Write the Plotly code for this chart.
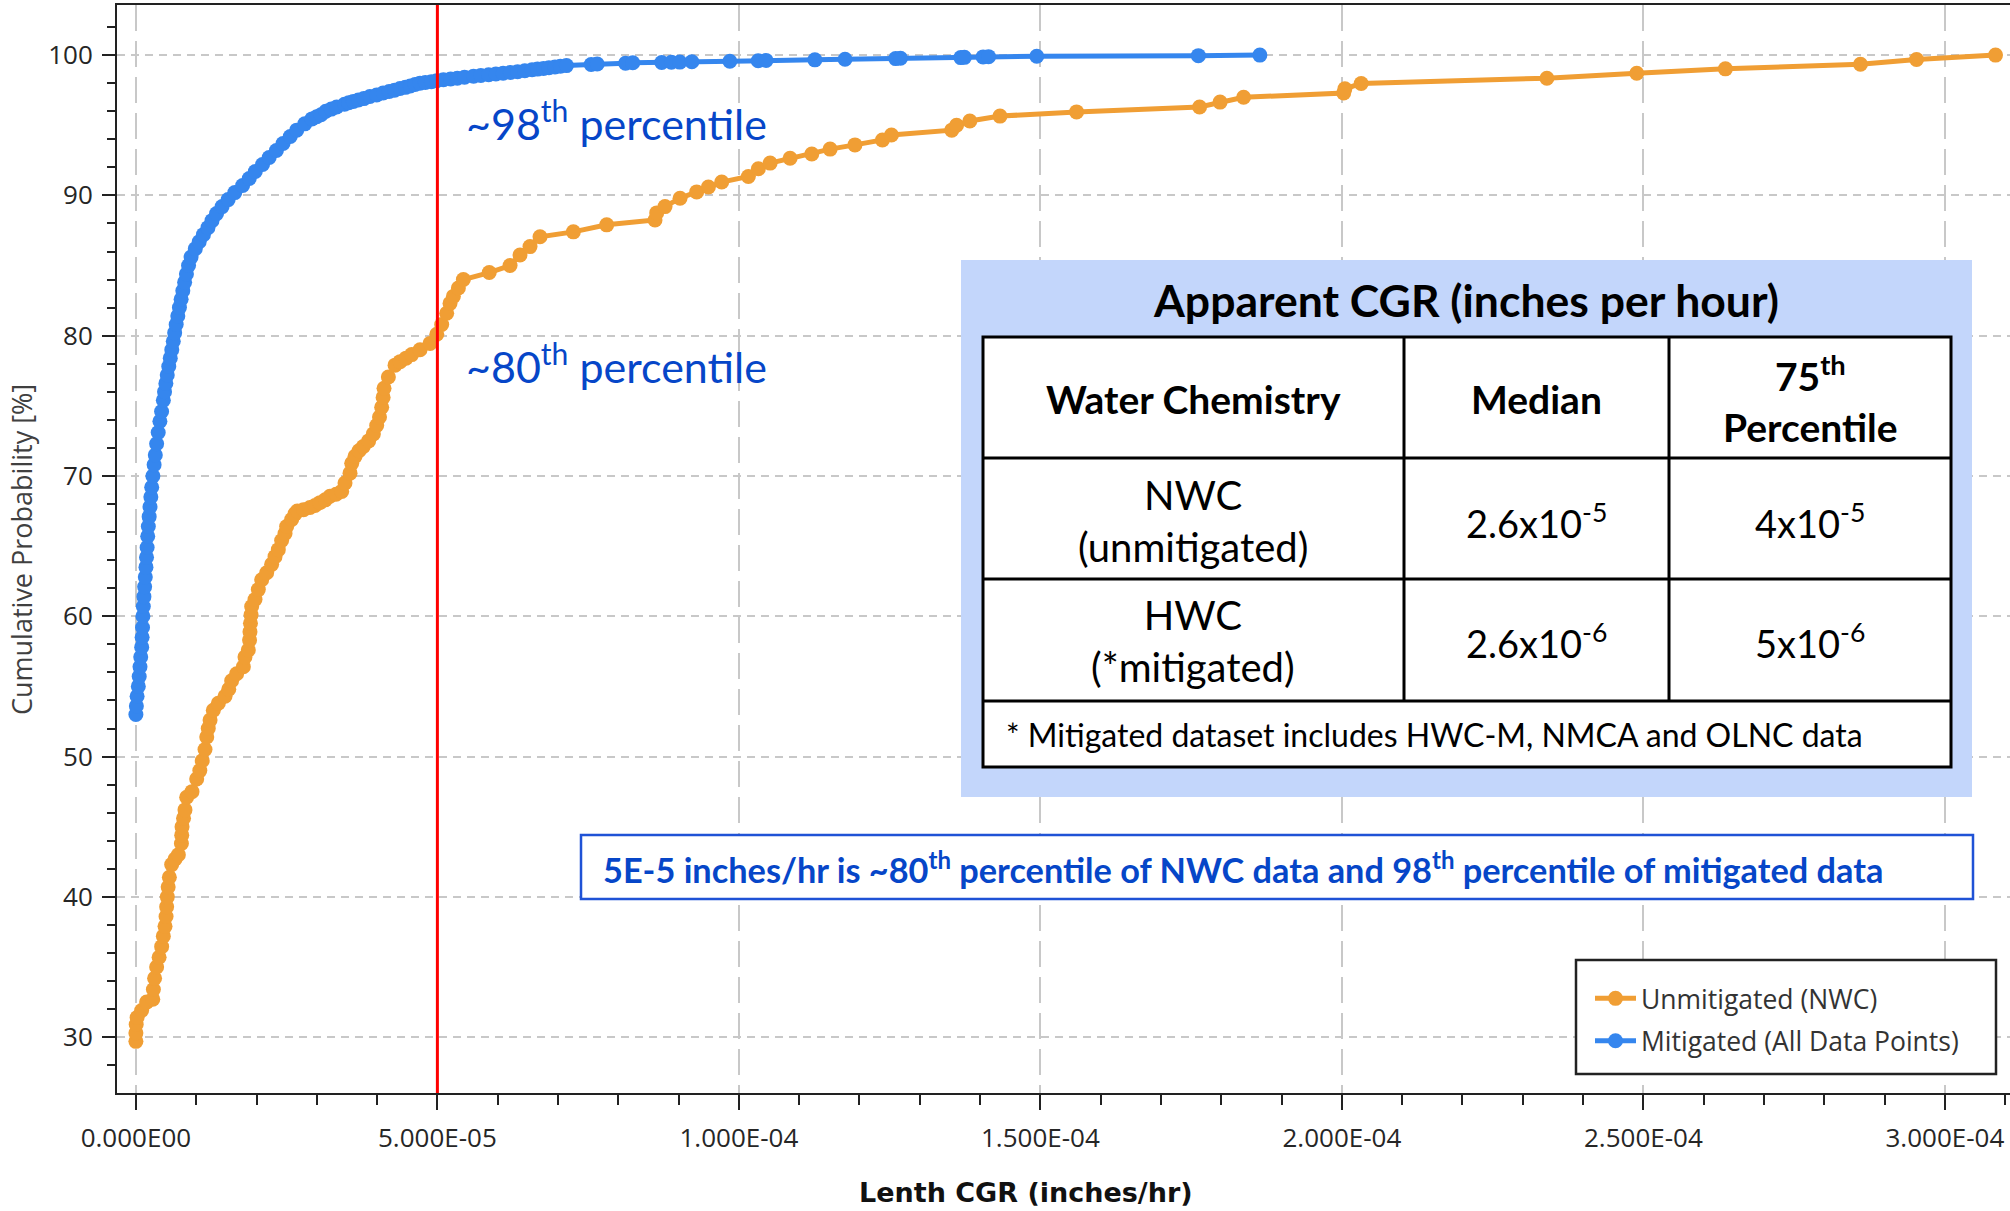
import plotly.graph_objects as go

# ---------------- data ----------------
# Unmitigated (NWC): length CGR (inches/hr) and cumulative probability (%)
nwc_cgr = [
    0.0, 0.0, 0.05e-6, 0.2e-6, 0.95e-6, 1.78e-6, 2.8e-6, 2.9e-6, 3.1e-6, 3.44e-6,
    3.85e-6, 4.27e-6, 4.55e-6, 4.83e-6, 5.0e-6, 5.1e-6, 5.21e-6, 5.35e-6, 5.55e-6, 5.93e-6,
    6.5e-6, 7.04e-6, 7.55e-6, 7.6e-6, 7.65e-6, 7.9e-6, 8.14e-6, 8.42e-6, 9.3e-6, 10.08e-6,
    10.6e-6, 11.0e-6, 11.46e-6, 11.75e-6, 12.0e-6, 12.3e-6, 12.84e-6, 13.67e-6, 14.78e-6, 15.4e-6,
    15.88e-6, 16.71e-6, 17.82e-6, 18.09e-6, 18.64e-6, 18.85e-6, 18.92e-6, 19.0e-6, 19.1e-6, 19.2e-6,
    19.75e-6, 20.3e-6, 20.86e-6, 21.69e-6, 22.51e-6, 23.07e-6, 23.62e-6, 24.17e-6, 24.73e-6, 25.0e-6,
    25.83e-6, 26.38e-6, 26.77e-6, 27.8e-6, 28.87e-6, 29.7e-6, 30.53e-6, 31.4e-6, 32.19e-6, 33.2e-6,
    34.13e-6, 34.68e-6, 35.51e-6, 35.79e-6, 36.34e-6, 37.0e-6, 37.72e-6, 38.6e-6, 39.38e-6, 39.93e-6,
    40.4e-6, 40.76e-6, 41.0e-6, 41.15e-6, 41.87e-6, 42.98e-6, 43.81e-6, 44.8e-6, 45.74e-6, 47.12e-6,
    48.78e-6, 49.9e-6, 50.71e-6, 51.54e-6, 52.09e-6, 52.65e-6, 53.48e-6, 54.31e-6, 58.6e-6, 62.05e-6,
    63.7e-6, 65.36e-6, 67.02e-6, 72.55e-6, 78.08e-6, 86.09e-6, 86.37e-6, 87.75e-6, 90.24e-6, 93.0e-6,
    94.94e-6, 97.15e-6, 101.57e-6, 103.23e-6, 105.18e-6, 108.49e-6, 112.09e-6, 115.13e-6, 119.25e-6, 123.8e-6,
    125.3e-6, 135.3e-6, 136.1e-6, 138.3e-6, 143.3e-6, 156.0e-6, 176.4e-6, 179.8e-6, 183.7e-6, 200.3e-6,
    200.5e-6, 203.2e-6, 234.0e-6, 248.9e-6, 263.6e-6, 286.0e-6, 295.3e-6, 308.4e-6,
]
nwc_prob = [
    29.7, 30.3, 30.9, 31.4, 31.9, 32.5, 32.7, 33.4, 34.2, 35.0,
    35.7, 36.45, 37.2, 37.9, 38.6, 39.3, 40.0, 40.7, 41.4, 42.3,
    42.7, 43.0, 43.8, 44.4, 45.0, 45.6, 46.2, 47.1, 47.5, 48.4,
    49.0, 49.7, 50.5, 51.4, 52.0, 52.6, 53.3, 53.8, 54.3, 54.8,
    55.4, 55.9, 56.4, 57.1, 57.6, 58.3, 58.9, 59.5, 60.1, 60.7,
    61.2, 61.9, 62.6, 63.1, 63.7, 64.25, 64.75, 65.4, 65.9, 66.4,
    66.9, 67.3, 67.5, 67.6, 67.75, 67.9, 68.1, 68.3, 68.55, 68.7,
    68.9, 69.5, 70.2, 70.9, 71.4, 71.8, 72.1, 72.5, 73.0, 73.6,
    74.2, 74.9, 75.6, 76.25, 77.05, 77.9, 78.15, 78.4, 78.65, 79.0,
    79.45, 80.1, 80.8, 81.6, 82.3, 82.8, 83.4, 84.0, 84.5, 85.0,
    85.75, 86.35, 87.05, 87.4, 87.9, 88.25, 88.75, 89.2, 89.8, 90.25,
    90.6, 90.95, 91.35, 91.9, 92.3, 92.65, 92.95, 93.3, 93.6, 93.95,
    94.3, 94.65, 95.0, 95.3, 95.65, 95.95, 96.3, 96.65, 96.99, 97.3,
    97.6, 97.98, 98.35, 98.71, 99.02, 99.35, 99.69, 100.0,
]

# Mitigated (all data points)
mit_cgr = [
    0.0, 0.08e-6, 0.2e-6, 0.4e-6, 0.55e-6, 0.68e-6, 0.8e-6, 0.96e-6, 1.03e-6, 1.1e-6,
    1.16e-6, 1.23e-6, 1.33e-6, 1.45e-6, 1.56e-6, 1.67e-6, 1.76e-6, 1.86e-6, 1.96e-6, 2.06e-6,
    2.2e-6, 2.34e-6, 2.48e-6, 2.62e-6, 2.82e-6, 3.02e-6, 3.22e-6, 3.44e-6, 3.7e-6, 3.98e-6,
    4.26e-6, 4.55e-6, 4.75e-6, 4.97e-6, 5.2e-6, 5.45e-6, 5.7e-6, 5.95e-6, 6.2e-6, 6.43e-6,
    6.68e-6, 6.95e-6, 7.22e-6, 7.5e-6, 7.78e-6, 8.08e-6, 8.38e-6, 8.73e-6, 9.15e-6, 9.85e-6,
    10.5e-6, 11.2e-6, 11.95e-6, 12.62e-6, 13.38e-6, 14.3e-6, 15.3e-6, 16.4e-6, 17.7e-6, 18.8e-6,
    19.8e-6, 21.0e-6, 22.1e-6, 23.3e-6, 24.4e-6, 25.6e-6, 26.67e-6, 28.0e-6, 29.2e-6, 29.98e-6,
    30.7e-6, 31.5e-6, 32.4e-6, 33.3e-6, 34.6e-6, 35.3e-6, 36.06e-6, 36.9e-6, 37.8e-6, 38.8e-6,
    39.93e-6, 41.0e-6, 42.0e-6, 42.9e-6, 43.8e-6, 44.7e-6, 45.5e-6, 46.3e-6, 47.11e-6, 48.0e-6,
    49.0e-6, 49.88e-6, 51.0e-6, 52.2e-6, 53.3e-6, 54.5e-6, 56.0e-6, 57.2e-6, 58.5e-6, 59.7e-6,
    60.9e-6, 62.1e-6, 63.3e-6, 64.5e-6, 65.7e-6, 66.6e-6, 67.6e-6, 68.5e-6, 69.5e-6, 70.4e-6,
    71.4e-6, 75.5e-6, 76.5e-6, 81.2e-6, 82.4e-6, 87.2e-6, 88.8e-6, 90.2e-6, 92.2e-6, 98.5e-6,
    103.2e-6, 104.5e-6, 112.6e-6, 117.6e-6, 126.0e-6, 126.8e-6, 136.8e-6, 137.4e-6, 140.5e-6, 141.4e-6,
    149.4e-6, 176.2e-6, 186.4e-6,
]
mit_prob = [
    53.0, 53.6, 54.3, 55.0, 55.7, 56.4, 57.1, 57.8, 58.5, 59.2,
    60.0, 60.7, 61.4, 62.1, 62.8, 63.5, 64.2, 64.9, 65.7, 66.4,
    67.1, 67.8, 68.5, 69.2, 70.0, 70.8, 71.5, 72.3, 73.1, 73.9,
    74.6, 75.4, 76.0, 76.6, 77.2, 77.8, 78.4, 79.0, 79.6, 80.2,
    80.8, 81.4, 82.0, 82.6, 83.2, 83.8, 84.4, 85.0, 85.6, 86.2,
    86.7, 87.2, 87.7, 88.2, 88.7, 89.2, 89.7, 90.2, 90.7, 91.2,
    91.7, 92.2, 92.7, 93.2, 93.7, 94.2, 94.65, 95.1, 95.45, 95.6,
    95.75, 96.0, 96.15, 96.3, 96.5, 96.6, 96.7, 96.8, 96.9, 97.05,
    97.15, 97.3, 97.4, 97.5, 97.62, 97.7, 97.8, 97.9, 98.0, 98.05,
    98.1, 98.17, 98.25, 98.3, 98.35, 98.42, 98.5, 98.55, 98.6, 98.65,
    98.7, 98.76, 98.82, 98.88, 98.95, 99.0, 99.05, 99.1, 99.15, 99.2,
    99.25, 99.33, 99.36, 99.42, 99.45, 99.47, 99.49, 99.5, 99.53, 99.56,
    99.6, 99.62, 99.66, 99.7, 99.75, 99.77, 99.82, 99.84, 99.87, 99.89,
    99.92, 99.96, 100.0,
]

series_names = ["Unmitigated (NWC)", "Mitigated (All Data Points)"]
x_tick_vals = [0.0, 5e-5, 1e-4, 1.5e-4, 2e-4, 2.5e-4, 3e-4]
x_tick_text = ["0.000E00", "5.000E-05", "1.000E-04", "1.500E-04",
               "2.000E-04", "2.500E-04", "3.000E-04"]
threshold_cgr = 5e-5

table_title = "Apparent CGR (inches per hour)"
table_header = ["Water Chemistry", "Median", "75<sup>th</sup><br>Percentile"]
table_rows = [
    ["NWC<br>(unmitigated)", "2.6x10<sup>-5</sup>", "4x10<sup>-5</sup>"],
    ["HWC<br>(*mitigated)", "2.6x10<sup>-6</sup>", "5x10<sup>-6</sup>"],
]
table_note = "* Mitigated dataset includes HWC-M, NMCA and OLNC data"
callout_98 = "~98<sup>th</sup> percentile"
callout_80 = "~80<sup>th</sup> percentile"
summary_text = ("5E-5 inches/hr is ~80<sup>th</sup> percentile of NWC data and "
                "98<sup>th</sup> percentile of mitigated data")

# ---------------- styling / layout helpers ----------------
ORANGE = "#F09E34"
BLUE = "#3586EE"
TXT_BLUE = "#0646C8"
AXF = "'Open Sans', 'Noto Sans', sans-serif"
CAL = "Lato, 'Open Sans', sans-serif"

W, H = 2010, 1211
ML, MR, MT, MB = 117, 0, 5, 118
PW, PH = W - ML - MR, H - MT - MB


def fx(p):
    return (p - ML) / PW


def fy(p):
    return (H - MB - p) / PH


fig = go.Figure()
fig.add_trace(go.Scatter(
    x=nwc_cgr, y=nwc_prob, mode="lines+markers", name=series_names[0],
    legendgroup="g1",
    line=dict(color=ORANGE, width=5), marker=dict(color=ORANGE, size=15),
))
fig.add_trace(go.Scatter(
    x=mit_cgr, y=mit_prob, mode="lines+markers", name=series_names[1],
    legendgroup="g2",
    line=dict(color=BLUE, width=5), marker=dict(color=BLUE, size=15),
))

shapes = [
    # table background panel
    dict(type="rect", xref="paper", yref="paper", x0=fx(961), x1=fx(1972), y0=fy(797), y1=fy(260),
         fillcolor="#C3D6FB", line=dict(width=0)),
    dict(type="rect", xref="paper", yref="paper", x0=fx(983), x1=fx(1951), y0=fy(767), y1=fy(337),
         fillcolor="white", line=dict(color="black", width=3)),
    # summary box
    dict(type="rect", xref="paper", yref="paper", x0=fx(581), x1=fx(1973), y0=fy(899), y1=fy(835),
         fillcolor="white", line=dict(color="#1F52D6", width=2.5)),
    # legend frame
    dict(type="rect", xref="paper", yref="paper", x0=fx(1576), x1=fx(1996), y0=fy(1074), y1=fy(960),
         fillcolor="white", line=dict(color="#222222", width=2.5)),
    # threshold line
    dict(type="line", xref="x", yref="paper", x0=threshold_cgr, x1=threshold_cgr, y0=0, y1=1,
         line=dict(color="#FF0000", width=3)),
]
for yy in (458, 579, 701):
    shapes.append(dict(type="line", xref="paper", yref="paper", x0=fx(983), x1=fx(1951),
                       y0=fy(yy), y1=fy(yy), line=dict(color="black", width=3)))
for xx in (1404, 1669):
    shapes.append(dict(type="line", xref="paper", yref="paper", x0=fx(xx), x1=fx(xx),
                       y0=fy(701), y1=fy(337), line=dict(color="black", width=3)))


def ann(text, x, y, size, color="black", bold=False, xanchor="center", family=CAL, angle=0):
    return dict(text=text, x=fx(x), y=fy(y), xref="paper", yref="paper",
                xanchor=xanchor, yanchor="middle", showarrow=False, textangle=angle,
                font=dict(family=family, size=size, color=color,
                          weight="bold" if bold else "normal"))


col_x = [1193, 1536, 1810]
annotations = [
    ann(callout_98, 464, 120, 43, TXT_BLUE, xanchor="left"),
    ann(callout_80, 464, 363, 43, TXT_BLUE, xanchor="left"),
    ann(summary_text, 601, 867, 34.3, TXT_BLUE, bold=True, xanchor="left"),
    ann(table_title, 1466, 299, 44.5, bold=True),
    ann(table_note, 1004, 734, 32, xanchor="left"),
    ann("Cumulative Probability [%]", 21, 550, 27, "#404040", family=AXF, angle=-90),
    ann("Lenth CGR (inches/hr)", 1026, 1192, 27, "#111111", bold=True,
        family="'DejaVu Sans', sans-serif"),
]
for cx, txt in zip(col_x, table_header):
    annotations.append(ann(txt, cx, 399, 39, bold=True))
for ry, row in zip((521, 641), table_rows):
    for i, (cx, txt) in enumerate(zip(col_x, row)):
        annotations.append(ann(txt, cx, ry, 40 if i == 0 else 38))

fig.update_layout(
    width=W, height=H,
    margin=dict(l=ML, r=MR, t=MT, b=MB, pad=0),
    paper_bgcolor="white", plot_bgcolor="white",
    showlegend=True,
    legend=dict(
        x=fx(1590), y=fy(974.6), xanchor="left", yanchor="top",
        bgcolor="rgba(0,0,0,0)", borderwidth=0,
        font=dict(family=AXF, size=26.5, color="#333333"),
        itemwidth=41, traceorder="grouped", tracegroupgap=5,
    ),
    shapes=shapes,
    annotations=annotations,
    xaxis=dict(
        range=[-3.134e-6, 3.108e-4],
        tickmode="array", tickvals=x_tick_vals, ticktext=x_tick_text,
        ticks="outside", ticklen=15, tickwidth=2, tickcolor="#222222",
        showline=True, linecolor="#222222", linewidth=2, mirror=True,
        showgrid=True, gridcolor="#C8C8C8", gridwidth=2, griddash="26px,10px",
        zeroline=False,
        minor=dict(tickmode="linear", tick0=0, dtick=1e-5, ticks="outside", ticklen=10,
                   tickwidth=2, tickcolor="#222222", showgrid=False),
        tickfont=dict(family=AXF, size=26, color="#262626"),
        ticklabelstandoff=6,
    ),
    yaxis=dict(
        range=[26.02, 103.57],
        tick0=0, dtick=10,
        ticks="outside", ticklen=13, tickwidth=2, tickcolor="#222222",
        showline=True, linecolor="#222222", linewidth=2, mirror=False,
        showgrid=True, gridcolor="#C8C8C8", gridwidth=2, griddash="8px,6px",
        zeroline=False,
        minor=dict(tickmode="linear", tick0=0, dtick=2, ticks="outside", ticklen=8,
                   tickwidth=2, tickcolor="#222222", showgrid=False),
        tickfont=dict(family=AXF, size=26, color="#262626"),
        ticklabelstandoff=4,
    ),
)

fig.write_html("out.html", config={"displayModeBar": False},
               post_script="document.body.style.margin='0px';")
